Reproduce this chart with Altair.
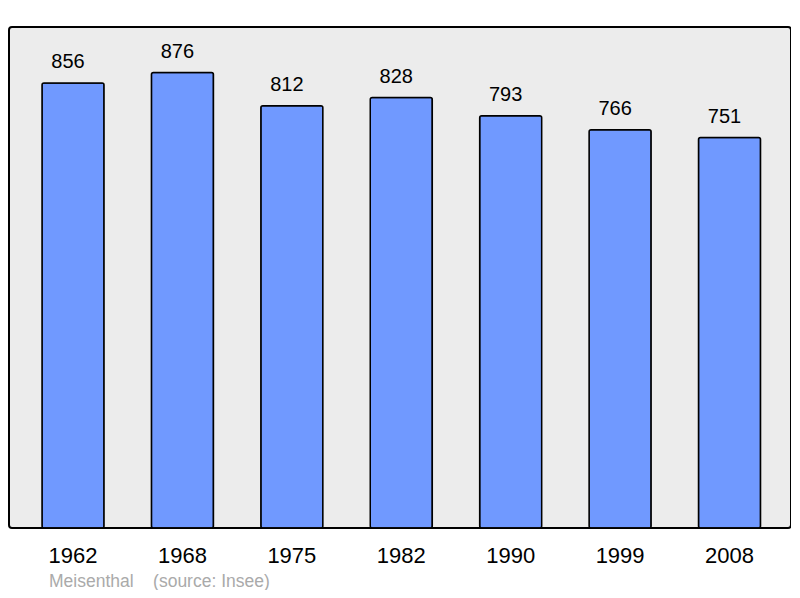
import altair as alt
import pandas as pd

years = ["1962", "1968", "1975", "1982", "1990", "1999", "2008"]
population = [856, 876, 812, 828, 793, 766, 751]

df = pd.DataFrame({"year": years, "pop": population})

x = alt.X("year:N", sort=years, title=None,
          scale=alt.Scale(paddingInner=0.433, paddingOuter=0.29, align=0.52),
          axis=alt.Axis(labelAngle=0, labelFontSize=22, labelColor="black",
                        labelFont="Liberation Sans", ticks=False, tickSize=0,
                        domain=False, labelPadding=17))
y = alt.Y("pop:Q", title=None,
          scale=alt.Scale(domain=[0, max(population) * 1.1], nice=False, zero=True),
          axis=None)

bars = alt.Chart(df).mark_bar(color="#7099ff", stroke="black", strokeWidth=1.5,
                              cornerRadius=2).encode(x=x, y=y)
labels = alt.Chart(df).mark_text(dy=-15, dx=-5, baseline="alphabetic", fontSize=20,
                                 font="Liberation Sans", color="black").encode(
    x=x, y=y, text="pop:Q")

chart = alt.layer(bars, labels).properties(
    width=782, height=501,
    padding={"left": 1, "top": 19, "right": 0, "bottom": 62},
    autosize=alt.AutoSizeParams(type="none"),
    title=alt.TitleParams("Meisenthal\u00a0\u00a0\u00a0\u00a0(source: Insee)",
                          orient="bottom", anchor="start", dx=40, offset=7,
                          fontSize=17.5, font="Liberation Sans", fontWeight="normal",
                          color="#aaaaaa"),
).configure_view(fill="#ececec", stroke="black", strokeWidth=2, cornerRadius=3)

chart.save("out.html", embed_options={"renderer": "svg", "actions": False})
